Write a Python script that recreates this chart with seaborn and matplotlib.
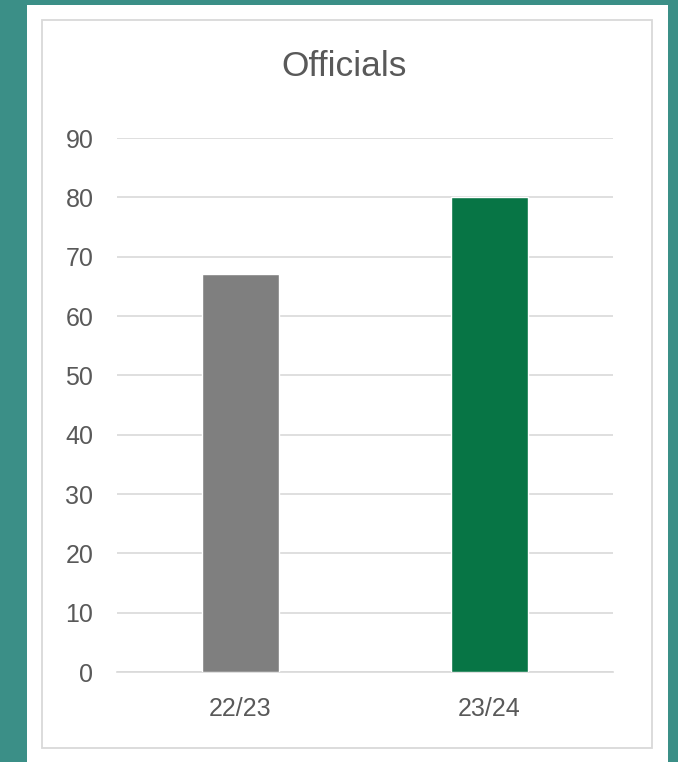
import matplotlib

matplotlib.use("Agg")

import matplotlib.pyplot as plt
import pandas as pd
import seaborn as sns
from matplotlib.patches import Rectangle

seasons = ["22/23", "23/24"]
officials = [67, 80]
bar_colors = ["#7f7f7f", "#077545"]
y_ticks = [0, 10, 20, 30, 40, 50, 60, 70, 80, 90]

W, H = 678, 762


def fx(px):
    return px / W


def fy(py):
    return 1 - py / H


sns.set_theme(style="white")
plt.rcParams["font.family"] = ["Liberation Sans", "DejaVu Sans"]

fig = plt.figure(figsize=(W / 100, H / 100), dpi=100)
fig.patch.set_facecolor("#3b8f87")

# white card and the thin chart border
fig.patches.append(Rectangle((fx(27), 0), fx(668) - fx(27), fy(5), transform=fig.transFigure,
                             facecolor="white", edgecolor="none", zorder=-2))
fig.patches.append(Rectangle((fx(42), fy(748)), fx(652) - fx(42), fy(20) - fy(748),
                             transform=fig.transFigure, facecolor="none",
                             edgecolor="#d9d9d9", linewidth=1.3, zorder=-1))

ax = fig.add_axes([fx(117), fy(672), fx(613) - fx(117), fy(138) - fy(672)])
ax.set_zorder(2)
ax.set_facecolor("none")

data = pd.DataFrame({"season": seasons, "officials": officials})
sns.barplot(data=data, x="season", y="officials", hue="season", palette=bar_colors,
            width=0.31, legend=False, saturation=1, ax=ax, zorder=3)

ax.set_ylim(0, 90)
ax.set_xlim(-0.496, 1.496)
ax.set_yticks(y_ticks)
ax.yaxis.grid(True, color="#d9d9d9", linewidth=1.2)
ax.set_axisbelow(True)
for side in ["top", "right", "left"]:
    ax.spines[side].set_visible(False)
ax.spines["bottom"].set_color("#d9d9d9")
ax.spines["bottom"].set_linewidth(1.2)
ax.tick_params(axis="y", length=0, pad=17, labelsize=18, labelcolor="#595959")
ax.tick_params(axis="x", length=0, pad=18, labelsize=18, labelcolor="#595959")
ax.set_xlabel("")
ax.set_ylabel("")

fig.text(fx(344), fy(66), "Officials", ha="center", va="center", fontsize=25.5, color="#595959",
         zorder=3)

fig.savefig("out.png", dpi=100, facecolor=fig.get_facecolor())
